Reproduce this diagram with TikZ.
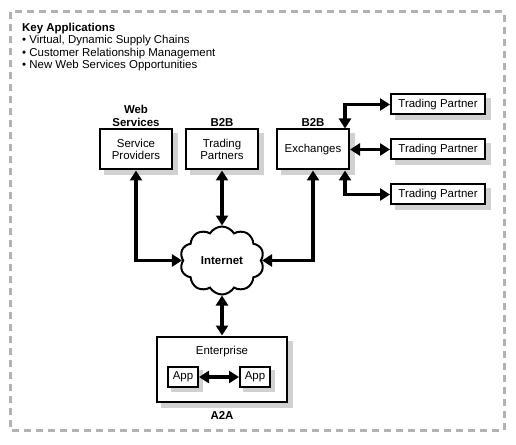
\documentclass[tikz,border=0pt]{standalone}
\usepackage{fontspec}
\setmainfont{Liberation Sans}
\usetikzlibrary{arrows.meta}
\usetikzlibrary{shapes.symbols}
\usetikzlibrary{backgrounds}
\usetikzlibrary{positioning}
\tikzstyle{service} = [rectangle, minimum width=72bp, minimum height=40bp, text centered, align=center, draw=black, line width=2bp, fill=white]
\tikzstyle{partner} = [rectangle, minimum width=94bp, minimum height=20bp, inner sep=1bp, text centered, draw=black, line width=2bp, fill=white]
\tikzstyle{enterprise} = [rectangle, minimum width=130bp, minimum height=65bp, draw=black, line width=2bp]
\tikzstyle{appbox} = [rectangle, minimum width=30bp, minimum height=20bp, inner sep=1bp, text centered, draw=black, line width=2bp, fill=white]
\tikzstyle{netcloud} = [cloud, cloud puffs=10, cloud puff arc=120, cloud ignores aspect, minimum width=84bp, minimum height=68bp, draw=black, line width=2bp, fill=white, font=\fontsize{11.5}{12.5}\selectfont\bfseries]
\tikzstyle{heading} = [align=center, inner sep=1bp, font=\fontsize{11.5}{12.5}\selectfont\bfseries]
\tikzstyle{shade} = [fill=black!18]
\tikzstyle{arrow} = [line width=3.5bp,<->,>={Triangle[length=10bp,width=12bp]}]
\begin{document}
\begin{tikzpicture}[x=1bp, y=-1bp, font=\fontsize{11.5}{12}\selectfont]
\useasboundingbox (0,0) rectangle (516,445);
\draw [black!30, line width=3bp, dash pattern=on 7bp off 5bp] (10,12) rectangle (504,430);

\node [anchor=north west, align=left, inner sep=0pt, font=\fontsize{11.5}{12.5}\selectfont] (keyapps) at (22,23) {\textbf{Key Applications}\\\textbullet\ Virtual, Dynamic Supply Chains\\\textbullet\ Customer Relationship Management\\\textbullet\ New Web Services Opportunities};

\node [service] (sp) at (136,149.5) {Service\\Providers};
\node [service, right=12bp of sp] (tp) {Trading\\Partners};
\node [service, right=17bp of tp] (ex) {Exchanges};
\node [heading, above=1bp of sp] (websvc) {Web\\Services};
\node [heading, above=1bp of tp] (b2btp) {B2B};
\node [heading, above=1bp of ex] (b2bex) {B2B};
\node [partner, right=40bp of ex] (tpB) {Trading Partner};
\node [partner, above=23bp of tpB] (tpA) {Trading Partner};
\node [partner, below=23bp of tpB] (tpC) {Trading Partner};
\node [netcloud, below=55bp of tp] (net) {Internet};
\node [enterprise, below=40bp of net] (ent) {};
\node [inner sep=1bp, below=9bp of ent.north] (enttext) {Enterprise};
\node [appbox] (app1) at ([xshift=-39bp,yshift=-8bp]ent.center) {App};
\node [appbox] (app2) at ([xshift=33bp,yshift=-8bp]ent.center) {App};
\node [heading, below=8bp of ent] (a2a) {A2A};

% shadows behind the boxes
\begin{scope}[on background layer]
\foreach \n in {sp,tp,ex,tpA,tpB,tpC,ent}
  \fill [shade] ([xshift=5bp,yshift=-5bp]\n.south west) rectangle ([xshift=5bp,yshift=-5bp]\n.north east);
\fill [white] (ent.south west) rectangle (ent.north east);
\foreach \n in {app1,app2}
  \fill [shade] ([xshift=4bp,yshift=-4bp]\n.south west) rectangle ([xshift=4bp,yshift=-4bp]\n.north east);
\end{scope}

\draw [arrow] (sp) |- (net);
\draw [arrow] (tp) -- (net);
\draw [arrow] (ex) |- (net);
\draw [arrow] (net) -- (ent);
\draw [arrow] (app1) -- (app2);
\draw [arrow] (ex) -- (tpB);
\draw [arrow] ([xshift=32bp]ex.north) |- (tpA);
\draw [arrow] ([xshift=32bp]ex.south) |- (tpC);

\end{tikzpicture}
\end{document}
